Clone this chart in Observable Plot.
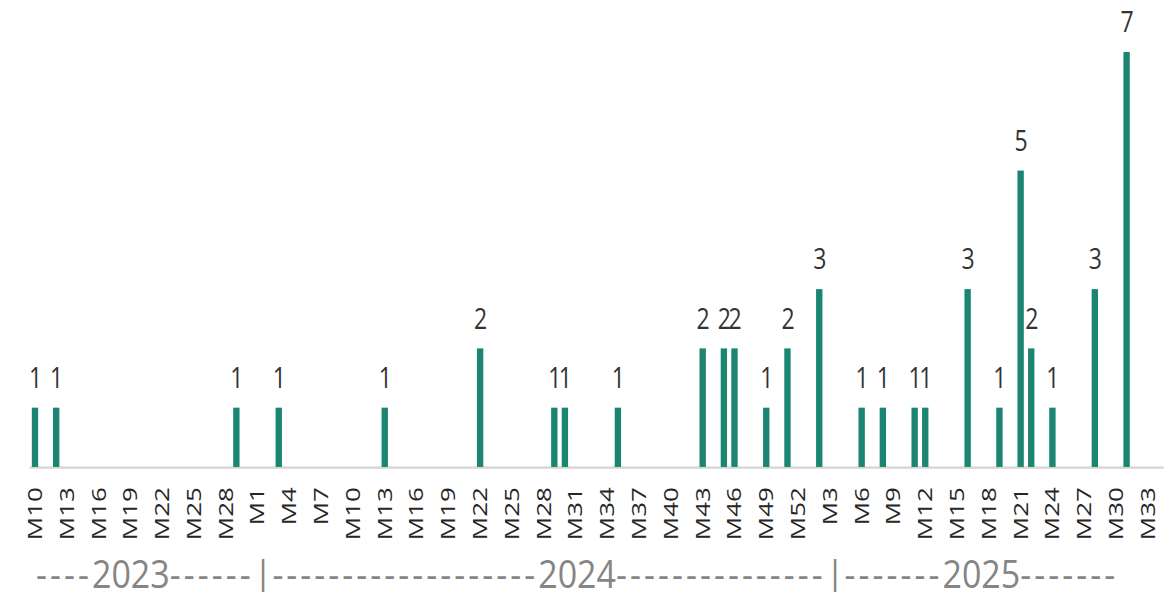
<!DOCTYPE html>
<html>
<head>
<meta charset="utf-8">
<script src="https://cdn.jsdelivr.net/npm/d3@7"></script>
<script src="https://cdn.jsdelivr.net/npm/@observablehq/plot@0.6"></script>
<style>
  html, body { margin: 0; padding: 0; background: #fff; }
  #wrap { position: relative; width: 1168px; height: 592px; overflow: hidden; }
  #years {
    position: absolute; left: 36px; top: 556px;
    font-family: "Open Sans", sans-serif; font-size: 34px; line-height: 30px;
    color: #858585; white-space: pre;
    transform: scaleY(1.15); transform-origin: top left;
  }
  #years .dash { letter-spacing: 3.05px; }
</style>
</head>
<body>
<div id="wrap">
  <div id="chart"></div>
  <div id="years"><span class="dash">----</span>2023<span class="dash">------</span>|<span class="dash">-------------------</span>2024<span class="dash">---------------</span>|<span class="dash">-------</span>2025<span class="dash">-------</span></div>
</div>
<script>
// Week slots shown on the axis, per year
const weekSpans = [
  {year: "2023", first: 10, last: 30},
  {year: "2024", first: 1, last: 52},
  {year: "2025", first: 1, last: 34}
];

// Weeks with at least one case, and the weekly counts
const weeks = [
  "2023-M10", "2023-M12", "2023-M29",
  "2024-M3", "2024-M13", "2024-M22", "2024-M29", "2024-M30", "2024-M35",
  "2024-M43", "2024-M45", "2024-M46", "2024-M49", "2024-M51",
  "2025-M2", "2025-M6", "2025-M8", "2025-M11", "2025-M12", "2025-M16",
  "2025-M19", "2025-M21", "2025-M22", "2025-M24", "2025-M28", "2025-M31"
];
const counts = [
  1, 1, 1,
  1, 1, 2, 1, 1, 1,
  2, 2, 2, 1, 2,
  3, 1, 1, 1, 1, 3,
  1, 5, 2, 1, 3, 7
];

// Labelled weeks on the axis (every third slot)
const tickWeeks = [
  "2023-M10", "2023-M13", "2023-M16", "2023-M19", "2023-M22", "2023-M25", "2023-M28",
  "2024-M1", "2024-M4", "2024-M7", "2024-M10", "2024-M13", "2024-M16", "2024-M19",
  "2024-M22", "2024-M25", "2024-M28", "2024-M31", "2024-M34", "2024-M37", "2024-M40",
  "2024-M43", "2024-M46", "2024-M49", "2024-M52",
  "2025-M3", "2025-M6", "2025-M9", "2025-M12", "2025-M15", "2025-M18", "2025-M21",
  "2025-M24", "2025-M27", "2025-M30", "2025-M33"
];

const categories = weekSpans.flatMap(s =>
  d3.range(s.first, s.last + 1).map(w => `${s.year}-M${w}`)
);
const rows = weeks.map((week, i) => ({week, count: counts[i]}));

// The chart is laid out in a shorter box, then stretched vertically
const STRETCH = 1.3;
const H = 421.5;
const baseline = 359.2;

const chart = Plot.plot({
  width: 1168,
  height: H,
  marginTop: 40,
  marginBottom: H - baseline,
  marginLeft: 29.7,
  marginRight: 4.3,
  style: {fontFamily: "Open Sans, sans-serif", fontSize: "20px", color: "#262626", background: "transparent"},
  x: {
    domain: categories,
    paddingInner: 0.4,
    paddingOuter: 0.2,
    ticks: tickWeeks,
    tickFormat: d => d.split("-")[1],
    tickRotate: -90,
    tickSize: 0,
    tickPadding: 15,
    label: null
  },
  y: {domain: [0, 7], axis: null},
  marks: [
    Plot.ruleY([0], {stroke: "#d4d4d4", strokeWidth: 1.6}),
    Plot.barY(rows, {x: "week", y: "count", fill: "#1b8571"}),
    Plot.text(rows, {x: "week", y: "count", text: d => String(d.count), dy: -23, fontSize: 23, fill: "#333"})
  ]
});

chart.setAttribute("preserveAspectRatio", "none");
chart.setAttribute("height", H * STRETCH);
chart.style.height = `${H * STRETCH}px`;
chart.style.maxWidth = "none";
chart.style.display = "block";
document.getElementById("chart").appendChild(chart);
</script>
</body>
</html>
